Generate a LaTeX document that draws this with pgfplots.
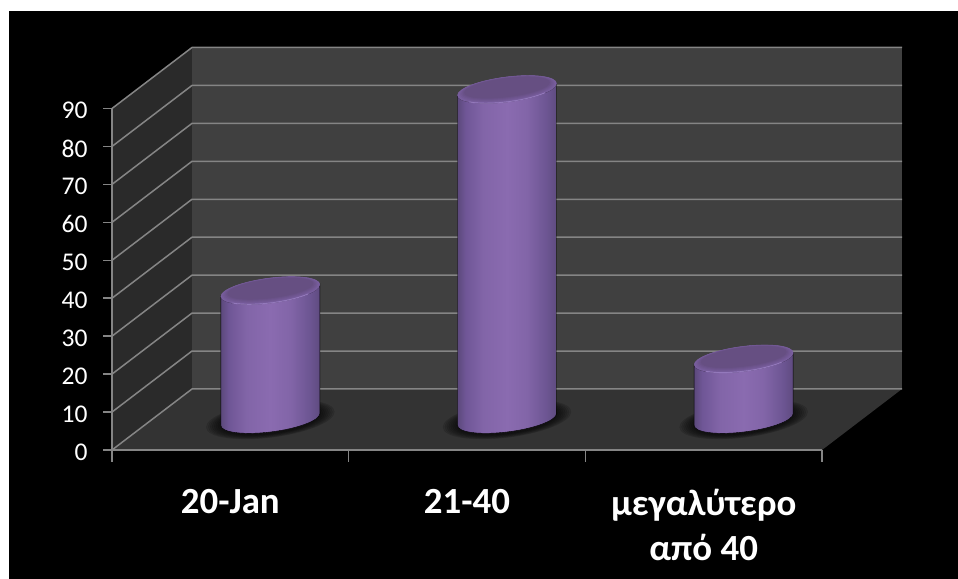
\documentclass[border=0pt]{standalone}
\usepackage{fontspec}
\usepackage{pgfplots}
\pgfplotsset{compat=1.18}
\setmainfont{Carlito}

\definecolor{sidewall}{HTML}{2A2A2A}
\definecolor{backwall}{HTML}{404040}
\definecolor{floorcol}{HTML}{333333}
\definecolor{gridcol}{HTML}{858585}
\definecolor{capouter}{HTML}{7A5FA0}
\definecolor{capinner}{HTML}{664F82}
\definecolor{caprim}{HTML}{A286CC}
\definecolor{wallA}{HTML}{5C497C}
\definecolor{wallB}{HTML}{6F5696}
\definecolor{wallC}{HTML}{8265A8}
\definecolor{wallD}{HTML}{8A6BB0}
\definecolor{wallE}{HTML}{6C5592}
\definecolor{wallF}{HTML}{5F4B80}

% Left-to-right sheen of the cylinder wall
\pgfdeclarehorizontalshading{cylwall}{100bp}{
  color(0bp)=(wallA);
  color(25bp)=(wallA);
  color(29bp)=(wallB);
  color(38bp)=(wallC);
  color(50bp)=(wallD);
  color(60bp)=(wallC);
  color(70bp)=(wallE);
  color(75bp)=(wallF);
  color(100bp)=(wallF)}

% One cylinder, origin at the centre of its top, #1 = height in bp
\newcommand{\drawcylinder}[1]{%
  \begin{scope}
    \pgftransformcm{1}{0.12}{0}{1}{\pgfpoint{40bp}{30.5bp}}%
    % soft contact shadow on the floor
    \foreach \s in {1.00,0.97,0.94,0.91,0.88,0.85,0.82,0.79}{
      \fill[black,opacity=0.10] (0bp,-#1bp) ellipse[x radius=\s*64bp,y radius=\s*18bp];
    }
    % wall
    \shade[shading=cylwall]
      (-49.5bp,0bp) -- (-49.5bp,-#1bp)
      arc[start angle=180,end angle=360,x radius=49.5bp,y radius=12.5bp]
      -- (49.5bp,0bp)
      arc[start angle=360,end angle=180,x radius=49.5bp,y radius=12.5bp] -- cycle;
    % top face with bevelled rim
    \foreach \t in {0,20,40,60,80,100}{
      \colorlet{capnow}{capinner!\t!capouter}
      \fill[capnow] (0bp,{0.018*\t*1bp})
        ellipse[x radius={(49.5-0.07*\t)*1bp},y radius={(12.5-0.032*\t)*1bp}];
    }
    \draw[caprim,line width=0.9bp,opacity=0.75]
      (220:49.5bp and 12.5bp) arc[start angle=220,end angle=320,x radius=49.5bp,y radius=12.5bp];
  \end{scope}}

\pgfdeclareplotmark{nothing}{}

\begin{document}
\begin{tikzpicture}[x=1bp,y=1bp]
  \useasboundingbox (0,0) rectangle (958,579);
  \fill[white] (0,0) rectangle (958,579);
  \fill[black] (9,0) rectangle (958,568);
  \begin{axis}[
    at={(112bp,129bp)}, anchor=south west,
    scale only axis, width=710bp, height=341.5bp,
    xmin=-0.5, xmax=2.5, ymin=0, ymax=90,
    clip=false, axis on top,
    axis x line*=bottom, axis y line*=left,
    axis line style={gridcol,line width=1.5bp,-},
    tick style={gridcol,line width=1.5bp},
    tick align=outside,
    major tick length=9bp,
    ytick={0,10,20,30,40,50,60,70,80,90},
    xtick={-0.5,0.5,1.5,2.5},
    x tick label as interval,
    xticklabels={20-Jan,21-40,{μεγαλύτερο\\από 40}},
    yticklabel style={font=\fontsize{25.6}{26}\selectfont,text=white,
      /pgf/number format/assume math mode=true,xshift=-12bp,yshift=-2bp},
    xticklabel style={font=\fontsize{37}{45}\selectfont\bfseries,text=white,
      align=center,anchor=north,yshift=-27bp},
  ]
    % floor and the two walls of the chart box
    \fill[floorcol] (axis cs:-0.5,0) -- (axis cs:-0.162,16.08) -- (axis cs:2.838,16.08) -- (axis cs:2.5,0) -- cycle;
    \fill[sidewall] (axis cs:-0.5,0) -- (axis cs:-0.162,16.08) -- (axis cs:-0.162,106.08) -- (axis cs:-0.5,90) -- cycle;
    \fill[backwall] (axis cs:-0.162,16.08) -- (axis cs:2.838,16.08) -- (axis cs:2.838,106.08) -- (axis cs:-0.162,106.08) -- cycle;
    % gridlines running along the side wall and across the back wall
    \pgfplotsinvokeforeach{0,10,20,30,40,50,60,70,80,90}{
      \draw[gridcol,line width=1.5bp,line join=bevel]
        (axis cs:-0.5,#1) -- (axis cs:-0.162,#1+16.08) -- (axis cs:2.838,#1+16.08);
    }
    % category ticks reach a little further than the value ticks
    \pgfplotsinvokeforeach{-0.5,0.5,1.5,2.5}{
      \draw[gridcol,line width=1.5bp] (axis cs:#1,0) -- ++(0bp,-12.5bp);
    }
    % the three cylinders
    \addplot[
      scatter, only marks, mark=nothing,
      visualization depends on={rawy \as \cylval},
      scatter/@pre marker code/.code={%
        \pgfmathsetmacro\cylh{\cylval*3.794}%
        \drawcylinder{\cylh}%
        \scope},
      scatter/@post marker code/.code={\endscope},
    ] coordinates {(0,34) (1,87) (2,16)};
  \end{axis}
\end{tikzpicture}
\end{document}
